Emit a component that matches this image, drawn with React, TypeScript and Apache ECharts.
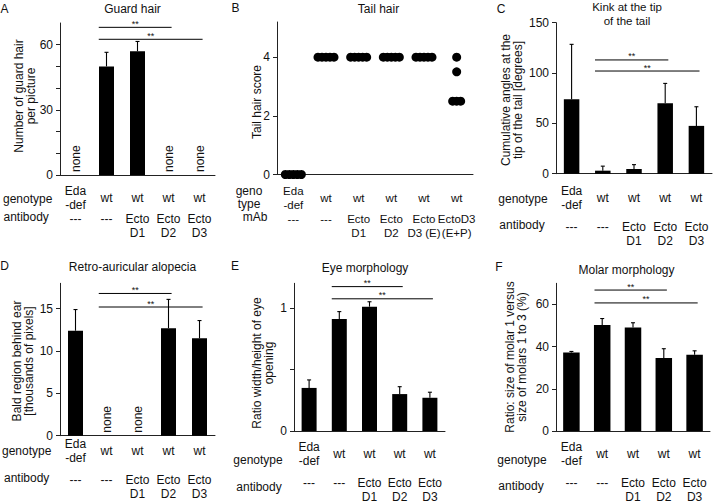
import React, { useEffect, useRef } from "react";
import * as echarts from "echarts";

const FONT = "'Liberation Sans', Arial, Helvetica, sans-serif";
const INK = "#111111";
const AXIS = "#222222";

// ---------- category labels ----------
const genotype5 = ["Eda\n-def", "wt", "wt", "wt", "wt"];
const antibody5 = ["---", "---", "Ecto\nD1", "Ecto\nD2", "Ecto\nD3"];
const genotypeB = ["Eda\n-def", "wt", "wt", "wt", "wt", "wt"];
const mAbB = ["---", "---", "Ecto\nD1", "Ecto\nD2", "Ecto\nD3 (E)", "EctoD3\n(E+P)"];

// ---------- A: guard hair ----------
const guardHair = [null, 50, 57, null, null];
const guardHairErr = [null, 6.5, 4.5, null, null];
const sigA = [[1, 3, 68], [1, 4, 62.5]];
const ticksA = [0, 10, 20, 30, 40, 50, 60];
const labelsA = [0, 30, 60];

// ---------- B: tail hair score (one value per animal) ----------
const tailHairScores = [
  [0, 0, 0, 0, 0],
  [4, 4, 4, 4, 4],
  [4, 4, 4, 4, 4],
  [4, 4, 4, 4, 4],
  [4, 4, 4, 4, 4],
  [4, 3.5, 2.5, 2.5, 2.5],
];
const ticksB = [0, 2, 4];

// ---------- C: kink at the tip of the tail ----------
const kinkAngles = [74, 3, 4.7, 70, 47.5];
const kinkErr = [54.5, 4.5, 4.3, 19.7, 19];
const sigC = [[1, 3, 113], [1, 4, 102]];
const ticksC = [0, 50, 100, 150];

// ---------- D: retro-auricular alopecia ----------
const baldRegion = [12.4, null, null, 12.7, 11.5];
const baldErr = [2.5, null, null, 3.4, 2.1];
const sigD = [[1, 3, 16.8], [1, 4, 15.2]];
const ticksD = [0, 5, 10, 15];

// ---------- E: eye morphology ----------
const eyeRatio = [0.35, 0.91, 1.01, 0.3, 0.27];
const eyeErr = [0.065, 0.06, 0.04, 0.06, 0.045];
const sigE = [[1, 3, 1.173], [1, 4, 1.074]];
const ticksE = [0, 0.5, 1];
const labelsE = [0, 1];

// ---------- F: molar morphology ----------
const molarRatio = [37.2, 50.2, 49, 34.6, 36.1];
const molarErr = [0.5, 3.1, 2.3, 4.4, 1.9];
const sigF = [[1, 3, 66.8], [1, 4, 60.7]];
const ticksF = [0, 20, 40, 60];

// ---------- texts ----------
const panelLetters = [
  { t: "A", x: 4.5, y: 9 }, { t: "B", x: 235.5, y: 8 }, { t: "C", x: 501, y: 9 },
  { t: "D", x: 4.5, y: 266 }, { t: "E", x: 235, y: 266 }, { t: "F", x: 499, y: 267 },
];
const titles = [
  { t: "Guard hair", x: 132.5, y: 9, s: 12 },
  { t: "Tail hair", x: 378.5, y: 9, s: 12 },
  { t: "Kink at the tip\nof the tail", x: 627, y: 13.7, s: 11.5 },
  { t: "Retro-auricular alopecia", x: 132.5, y: 267, s: 12 },
  { t: "Eye morphology", x: 365, y: 267.5, s: 12 },
  { t: "Molar morphology", x: 626.5, y: 270, s: 12 },
];
const yNames = [
  { t: "Number of guard hair\nper picture", x: 24.5, y: 96 },
  { t: "Tail hair score", x: 257, y: 102 },
  { t: "Cumulative angles at the\ntip of the tail [degrees]", x: 511.5, y: 100 },
  { t: "Bald region behind ear\n[thousands of pixels]", x: 22.5, y: 361 },
  { t: "Ratio width/height of eye\nopening", x: 262.5, y: 363 },
  { t: "Ratio: size of molar 1 versus\nsize of molars 1 to 3 (%)", x: 516, y: 357 },
];
const rowLabels = [
  { t: "genotype", x: 3, y: 198.5, a: "left" },
  { t: "antibody", x: 3.5, y: 216.5, a: "left" },
  { t: "geno", x: 249, y: 191, a: "center" },
  { t: "type", x: 249, y: 204, a: "center" },
  { t: "mAb", x: 255, y: 217, a: "center" },
  { t: "genotype", x: 523, y: 198.5, a: "center" },
  { t: "antibody", x: 522, y: 225, a: "center" },
  { t: "genotype", x: 2, y: 451, a: "left" },
  { t: "antibody", x: 4, y: 478, a: "left" },
  { t: "genotype", x: 258, y: 459.5, a: "center" },
  { t: "antibody", x: 259, y: 487, a: "center" },
  { t: "genotype", x: 522, y: 459.5, a: "center" },
  { t: "antibody", x: 521, y: 486, a: "center" },
];

type BarPanel = {
  grid: { left: number; top: number; width: number; height: number };
  max: number;
  ticks: number[];
  labels: number[];
  values: (number | null)[];
  err: (number | null)[];
  sig: number[][];
  genoMargin: number;
  abMargin: number;
  barWidth: number;
};

const barPanels: BarPanel[] = [
  { grid: { left: 60, top: 23, width: 155, height: 152 }, max: 70, ticks: ticksA, labels: labelsA,
    values: guardHair, err: guardHairErr, sig: sigA, genoMargin: 23, abMargin: 36.5, barWidth: 15 },
  { grid: { left: 556, top: 22.7, width: 156, height: 151 }, max: 150, ticks: ticksC, labels: ticksC,
    values: kinkAngles, err: kinkErr, sig: sigC, genoMargin: 24.3, abMargin: 46.5, barWidth: 15.5 },
  { grid: { left: 60, top: 283.3, width: 155, height: 152.4 }, max: 18, ticks: ticksD, labels: ticksD,
    values: baldRegion, err: baldErr, sig: sigD, genoMargin: 15, abMargin: 37.5, barWidth: 15 },
  { grid: { left: 294, top: 283.3, width: 151, height: 153.2 }, max: 1.2, ticks: ticksE, labels: labelsE,
    values: eyeRatio, err: eyeErr, sig: sigE, genoMargin: 22.5, abMargin: 45, barWidth: 15 },
  { grid: { left: 556, top: 283.3, width: 154, height: 152.4 }, max: 70, ticks: ticksF, labels: ticksF,
    values: molarRatio, err: molarErr, sig: sigF, genoMargin: 23.3, abMargin: 45, barWidth: 16.5 },
];
const gridB = { left: 277, top: 22, width: 196, height: 152.5 };

const textStyle = (size = 12) => ({ fontSize: size, fontFamily: FONT, color: INK });

function yAxisOf(gridIndex: number, max: number, ticks: number[], labels: number[]) {
  return {
    type: "value", gridIndex, min: 0, max,
    axisLine: { show: true, lineStyle: { color: AXIS, width: 1 } },
    axisTick: { show: true, length: 4, inside: false, customValues: ticks, lineStyle: { color: AXIS, width: 1 } },
    axisLabel: {
      ...textStyle(12), margin: 7, customValues: labels,
      formatter: (v: number) => (labels.some((l) => Math.abs(l - v) < 1e-9) ? String(v) : ""),
    },
    splitLine: { show: false },
  };
}

function xAxesOf(gridIndex: number, geno: string[], ab: string[], genoMargin: number, abMargin: number, size = 12) {
  return [
    {
      type: "category", gridIndex, data: geno, position: "bottom",
      axisLine: { show: true, lineStyle: { color: AXIS, width: 1 } },
      axisTick: { show: false },
      axisLabel: { ...textStyle(size), interval: 0, margin: genoMargin, verticalAlign: "middle", lineHeight: 14, hideOverlap: false },
    },
    {
      type: "category", gridIndex, data: ab, position: "bottom", offset: 0,
      axisLine: { show: false }, axisTick: { show: false },
      axisLabel: { ...textStyle(size), interval: 0, margin: abMargin, verticalAlign: "top", lineHeight: 14, hideOverlap: false },
    },
  ];
}

function buildOption() {
  const grids: any[] = [];
  const xAxes: any[] = [];
  const yAxes: any[] = [];
  const series: any[] = [];

  const allGrids = [barPanels[0].grid, gridB, barPanels[1].grid, barPanels[2].grid, barPanels[3].grid, barPanels[4].grid];
  allGrids.forEach((g) => grids.push({ ...g, containLabel: false }));
  const barGridIndex = [0, 2, 3, 4, 5];

  barPanels.forEach((p, i) => {
    const gi = barGridIndex[i];
    const xs = xAxesOf(gi, genotype5, antibody5, p.genoMargin, p.abMargin);
    const xIdx = xAxes.length;
    xAxes.push(...xs);
    const yIdx = yAxes.length;
    yAxes.push(yAxisOf(gi, p.max, p.ticks, p.labels));

    series.push({
      type: "bar", xAxisIndex: xIdx, yAxisIndex: yIdx, data: p.values,
      barWidth: p.barWidth, itemStyle: { color: "#000" }, silent: true,
    });
    // error bars (upper whisker)
    series.push({
      type: "custom", xAxisIndex: xIdx, yAxisIndex: yIdx, clip: false, silent: true,
      data: p.values
        .map((v, k) => (v == null ? null : [k, v, p.err[k] as number]))
        .filter((d) => d !== null),
      encode: { x: 0, y: 1 },
      renderItem: (_params: any, api: any) => {
        const k = api.value(0), v = api.value(1), e = api.value(2);
        const a = api.coord([k, v]);
        const b = api.coord([k, v + e]);
        return {
          type: "group",
          children: [
            { type: "line", shape: { x1: a[0], y1: a[1], x2: b[0], y2: b[1] }, style: { stroke: "#000", lineWidth: 1.1 } },
            { type: "line", shape: { x1: b[0] - 2, y1: b[1], x2: b[0] + 2, y2: b[1] }, style: { stroke: "#000", lineWidth: 1.1 } },
          ],
        };
      },
    });
    // "none" labels where no value
    const noneData = p.values.map((v, k) => (v == null ? [k, 0] : null)).filter((d) => d !== null);
    if (noneData.length) {
      series.push({
        type: "custom", xAxisIndex: xIdx, yAxisIndex: yIdx, clip: false, silent: true,
        data: noneData, encode: { x: 0, y: 1 },
        renderItem: (_params: any, api: any) => {
          const a = api.coord([api.value(0), 0]);
          return {
            type: "text", x: a[0], y: a[1] - 3, rotation: Math.PI / 2,
            style: { text: "none", fill: INK, fontSize: 12, fontFamily: FONT, align: "left", verticalAlign: "middle" },
          };
        },
      });
    }
    // significance brackets
    series.push({
      type: "custom", xAxisIndex: xIdx, yAxisIndex: yIdx, clip: false, silent: true,
      data: p.sig, encode: { x: [0, 1], y: 2 },
      renderItem: (_params: any, api: any) => {
        const h = api.value(2);
        const a = api.coord([api.value(0), h]);
        const b = api.coord([api.value(1), h]);
        const band = api.size([1, 0])[0];
        const x1 = a[0] - 0.25 * band;
        const x2 = b[0] + 0.1 * band;
        return {
          type: "group",
          children: [
            { type: "line", shape: { x1, y1: a[1], x2, y2: a[1] }, style: { stroke: "#000", lineWidth: 1 } },
            {
              type: "text", x: (x1 + x2) / 2, y: a[1] + 1,
              style: { text: "**", fill: INK, fontSize: 9, fontFamily: FONT, align: "center", verticalAlign: "bottom" },
            },
          ],
        };
      },
    });
  });

  // panel B (scatter of individual scores)
  const xbIdx = xAxes.length;
  xAxes.push(...xAxesOf(1, genotypeB, mAbB, 23.6, 37, 11.5));
  const ybIdx = yAxes.length;
  yAxes.push(yAxisOf(1, 5.2, ticksB, ticksB));
  const scatterData: any[] = [];
  tailHairScores.forEach((group, g) => {
    const seen: Record<string, number> = {};
    const counts: Record<string, number> = {};
    group.forEach((v) => (counts[v] = (counts[v] || 0) + 1));
    group.forEach((v) => {
      const j = seen[v] || 0;
      seen[v] = j + 1;
      const dx = (j - (counts[v] - 1) / 2) * 4;
      scatterData.push({ value: [g, v], symbolOffset: [dx, 0] });
    });
  });
  series.push({
    type: "scatter", xAxisIndex: xbIdx, yAxisIndex: ybIdx, data: scatterData,
    symbol: "circle", symbolSize: 9, clip: false, silent: true,
    itemStyle: { color: "#000", opacity: 1 },
  });

  const graphicEls: any[] = [];
  const txt = (t: string, x: number, y: number, size: number, align: string, lh = 14, extra: any = {}) => ({
    type: "text", x, y, silent: true, ...extra,
    style: {
      text: t, fill: INK, fontSize: size, fontFamily: FONT,
      align, verticalAlign: "middle", textAlign: align, textVerticalAlign: "middle", lineHeight: lh,
    },
  });
  panelLetters.forEach((l) => graphicEls.push(txt(l.t, l.x, l.y, 12, "center")));
  titles.forEach((l) => graphicEls.push(txt(l.t, l.x, l.y, l.s, "center")));
  rowLabels.forEach((l) => graphicEls.push(txt(l.t, l.x, l.y, 12, l.a, 11)));
  yNames.forEach((l) => graphicEls.push(txt(l.t, l.x, l.y, 12, "center", 12, { rotation: Math.PI / 2 })));

  return {
    animation: false,
    backgroundColor: "#ffffff",
    grid: grids,
    xAxis: xAxes,
    yAxis: yAxes,
    series,
    graphic: { elements: graphicEls },
  };
}

export default function App() {
  const ref = useRef<HTMLDivElement | null>(null);
  useEffect(() => {
    if (!ref.current) return;
    const chart = echarts.init(ref.current, null, { renderer: "svg" });
    chart.setOption(buildOption() as any);
    return () => chart.dispose();
  }, []);
  return (
    <div
      ref={ref}
      style={{ position: "fixed", left: 0, top: 0, width: 713, height: 504, background: "#fff" }}
    />
  );
}
